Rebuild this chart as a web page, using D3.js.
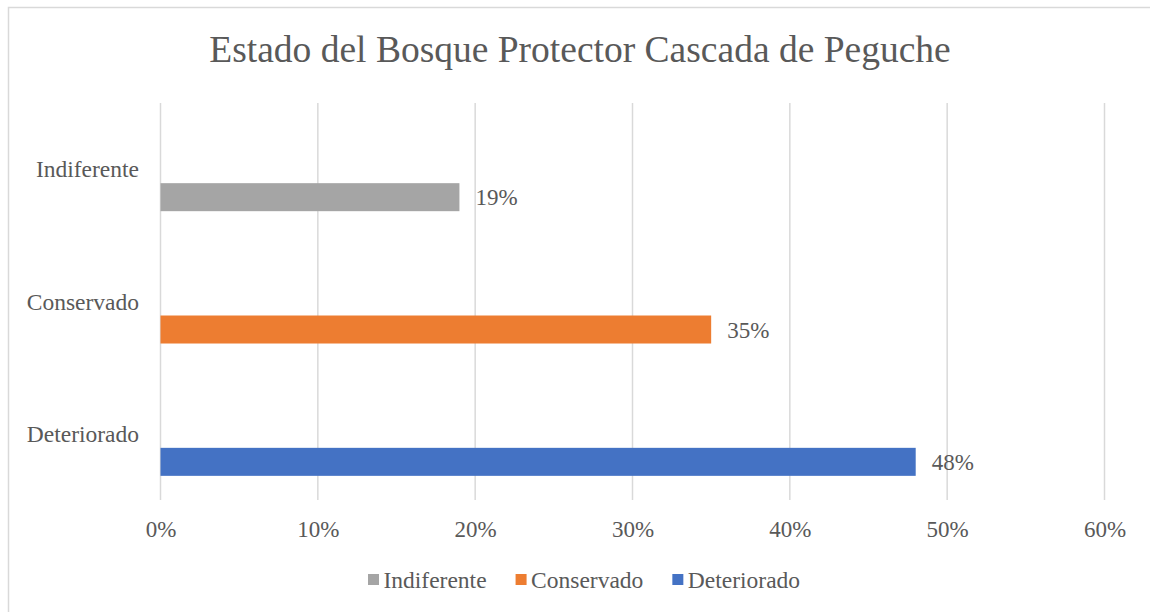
<!DOCTYPE html>
<html>
  <script src="https://d3js.org/d3.v7.min.js" type="text/JavaScript"></script>
  <style>
    body { margin: 0; background: #fff; }
    text { font-family: "Liberation Serif", "Times New Roman", serif; fill: #595959; }
  </style>
  <body>
    <svg></svg>
    <script>
// categories top to bottom, values in percent
var categories = ['Indiferente', 'Conservado', 'Deteriorado'];
var values = [19, 35, 48];
var colors = ['#a5a5a5', '#ed7d31', '#4472c4'];
var xTicks = [0, 10, 20, 30, 40, 50, 60];
var legendOrder = ['Indiferente', 'Conservado', 'Deteriorado'];
var title = 'Estado del Bosque Protector Cascada de Peguche';

var data = categories.map((c, i) => ({ cat: c, value: values[i], color: colors[i] }));

var svg = d3.select('svg')
  .attr('width', 1150)
  .attr('height', 612);

// chart frame (right and bottom edges fall outside the picture)
svg.append('rect')
  .attr('x', 8.5).attr('y', 7.5)
  .attr('width', 1160).attr('height', 620)
  .style('fill', 'none')
  .style('stroke', '#d9d9d9')
  .style('stroke-width', '1.5px');

svg.append('text')
  .attr('x', 580)
  .attr('y', 62)
  .attr('text-anchor', 'middle')
  .style('font-size', '37.5px')
  .text(title);

var xScale = d3.scaleLinear().domain([0, 60]).range([160.5, 1104.5]);
var yScale = d3.scaleBand().domain(categories).range([103, 500]);
// three slots per category, the bar sits in the last one
var slot = d3.scaleBand().domain([0, 1, 2]).range([0, yScale.bandwidth()]).paddingOuter(0.8625);

// gridlines
svg.append('g')
  .selectAll('line')
  .data(xTicks)
  .enter()
  .append('line')
    .attr('x1', d => xScale(d)).attr('x2', d => xScale(d))
    .attr('y1', 103).attr('y2', 500)
    .style('stroke', '#d9d9d9')
    .style('stroke-width', '1.5px');

// x axis labels
var xAxis = d3.axisBottom(xScale)
  .tickValues(xTicks)
  .tickFormat(d => d + '%')
  .tickSize(0)
  .tickPadding(0);

var gx = svg.append('g')
  .attr('transform', 'translate(0, 520)')
  .call(xAxis);
gx.select('.domain').remove();
gx.selectAll('text')
  .attr('dy', '0.75em')
  .style('font-size', '23px')
  .style('font-family', '"Liberation Serif", "Times New Roman", serif')
  .style('fill', '#595959');

// category labels
var yAxis = d3.axisLeft(yScale).tickSize(0).tickPadding(0);
var gy = svg.append('g')
  .attr('transform', 'translate(139, 0)')
  .call(yAxis);
gy.select('.domain').remove();
gy.selectAll('text')
  .attr('dy', '0.35em')
  .style('font-size', '23.5px')
  .style('font-family', '"Liberation Serif", "Times New Roman", serif')
  .style('fill', '#595959');

// bars
var gBar = svg.append('g')
  .selectAll('g')
  .data(data)
  .enter()
  .append('g')
    .attr('transform', d => `translate(0, ${yScale(d.cat) + slot(2)})`);

gBar.append('rect')
  .attr('x', xScale(0))
  .attr('y', 0)
  .attr('width', d => xScale(d.value) - xScale(0))
  .attr('height', slot.bandwidth())
  .style('fill', d => d.color);

gBar.append('text')
  .attr('x', d => xScale(d.value) + 16)
  .attr('y', slot.bandwidth() / 2)
  .attr('dy', '0.35em')
  .style('font-size', '23px')
  .text(d => d.value + '%');

// legend
var legend = svg.append('g').attr('transform', 'translate(0, 580)');
var lx = 368;
legendOrder.forEach(name => {
  var d = data.find(e => e.cat === name);
  legend.append('rect')
    .attr('x', lx).attr('y', -6)
    .attr('width', 11).attr('height', 11)
    .style('fill', d.color);
  var t = legend.append('text')
    .attr('x', lx + 15.5)
    .attr('y', 0)
    .attr('dy', '0.35em')
    .style('font-size', '23.5px')
    .text(name);
  lx += 15.5 + t.node().getComputedTextLength() + 29;
});
    </script>
  </body>
</html>
